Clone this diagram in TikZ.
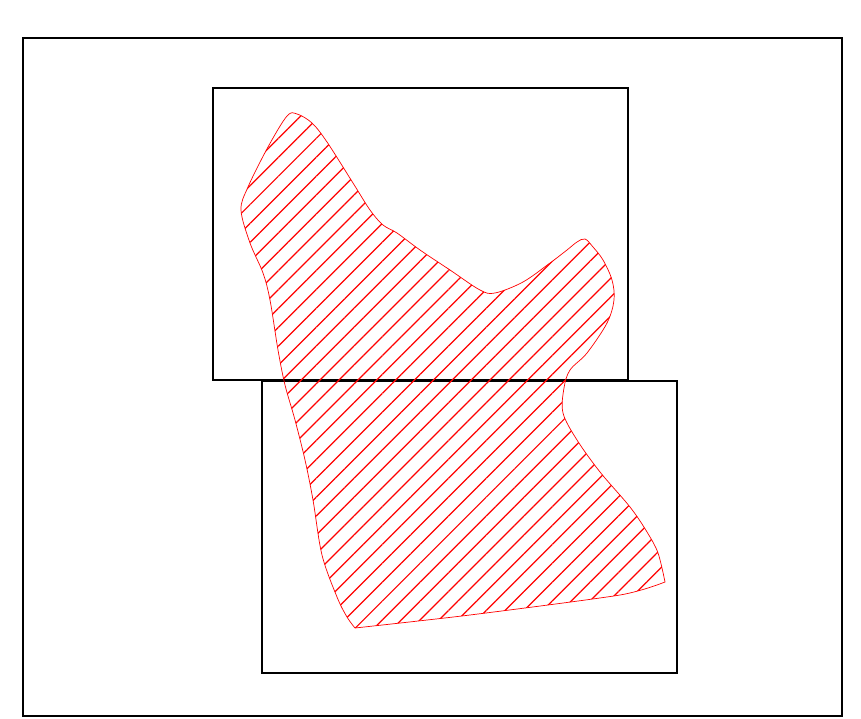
\documentclass[tikz,border=0pt]{standalone}
\usetikzlibrary{patterns.meta}
\tikzset{
  frame/.style={draw=black,line width=1.1pt},
  tile/.style={draw=black,line width=1.1pt},
  region/.style={draw=red,line width=0.4pt,
    pattern={Lines[angle=45,distance=7.6pt,line width=0.7pt]},pattern color=red},
}

\begin{document}
\begin{tikzpicture}[x=0.02cm,y=-0.02cm]
\useasboundingbox (0,0) rectangle (861,719);
% outer frame and the two tiles
\draw[frame] (23,38) rectangle (842,716);
\draw[tile]  (213,88) rectangle (628,380);
\draw[tile]  (262,381) rectangle (677,673);
% hatched region
\draw[region] plot[smooth,tension=0.55] coordinates {
  (355,628) (347,617) (337,597) (322,555) (313,500)
  (305,460) (295,420) (285,385) (278,350) (270,300) (263,273) (250,243)
  (241,210) (248,187) (268,147) (287,116) (297,114) (312,123) (327,142)
  (353,183) (370,210) (383,225) (397,233) (420,250) (450,270) (480,290)
  (495,293) (523,282) (550,263) (567,250) (577,242) (585,239) (593,247)
  (603,260) (612,280) (614,300) (607,323) (587,353) (570,370) (564,388)
  (563,413) (577,440) (600,472) (630,507) (647,532) (658,553) (665,582)
} -- plot[smooth,tension=0.4] coordinates {(665,582) (620,595) (470,615) (355,628)} -- cycle;
\end{tikzpicture}
\end{document}
